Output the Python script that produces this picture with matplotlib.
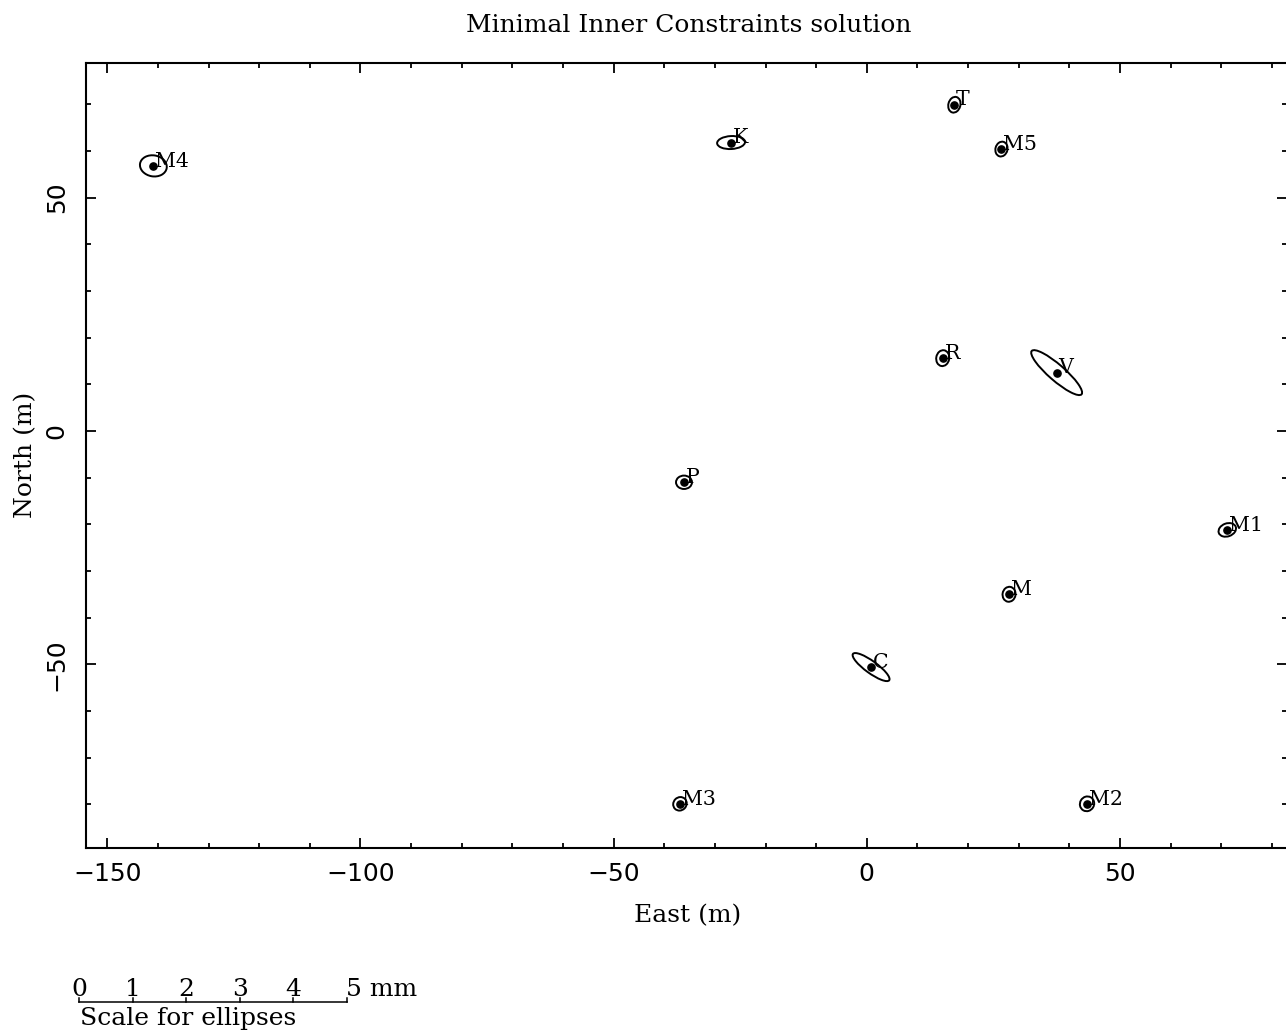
import matplotlib
matplotlib.use('Agg')
import matplotlib.pyplot as plt
from matplotlib.patches import Ellipse
from matplotlib.lines import Line2D
from matplotlib import transforms
from matplotlib.ticker import MultipleLocator

# station coordinates (m)
stations = ['M4', 'K', 'T', 'M5', 'R', 'V', 'P', 'M1', 'M', 'C', 'M3', 'M2']
east = [-140.9, -26.8, 17.3, 26.6, 15.0, 37.5, -36.1, 71.2, 28.1, 0.85, -36.9, 43.5]
north = [56.8, 61.8, 69.9, 60.4, 15.6, 12.5, -11.0, -21.2, -35.0, -50.6, -79.9, -79.9]

# error ellipses, drawn in mm on the plot
semi_major = [0.252, 0.261, 0.149, 0.140, 0.149, 0.616, 0.149, 0.168, 0.140, 0.418, 0.131, 0.140]
semi_minor = [0.196, 0.121, 0.112, 0.112, 0.121, 0.149, 0.125, 0.121, 0.121, 0.112, 0.121, 0.131]
orient = [-10, 3, 75, 75, 80, -41, 0, 20, 80, -36, 45, 60]

scale_mm = [0, 1, 2, 3, 4, 5]

MM = 0.536  # inches per mm of ellipse scale
FS = 14.8   # station names
FL = 18     # title, axis text
SERIF = 'DejaVu Serif'

plt.rcParams['font.family'] = 'DejaVu Sans'

fig = plt.figure(figsize=(12.86, 10.32), dpi=100)
ax = fig.add_axes([0.0665, 0.1786, 0.9343, 0.7606])

for name, x, y, a, b, ang in zip(stations, east, north, semi_major, semi_minor, orient):
    ax.plot(x, y, 'o', color='black', ms=5.2)
    # ellipse sized in paper units, centred on the station
    trans = fig.dpi_scale_trans + transforms.ScaledTranslation(x, y, ax.transData)
    ell = Ellipse((0, 0), 2 * a * MM, 2 * b * MM, angle=ang, fill=False,
                  lw=1.4, edgecolor='black', transform=trans)
    ax.add_patch(ell)
    ax.annotate(name, (x, y), xytext=(1.2, -0.5), textcoords='offset points',
                ha='left', va='baseline', fontsize=FS, family=SERIF)

ax.set_xlim(-154.3, 83.0)
ax.set_ylim(-89.3, 78.9)

ax.xaxis.set_major_locator(MultipleLocator(50))
ax.xaxis.set_minor_locator(MultipleLocator(10))
ax.yaxis.set_major_locator(MultipleLocator(50))
ax.yaxis.set_minor_locator(MultipleLocator(10))
ax.tick_params(which='both', direction='in', top=True, right=True, width=1.3, labelsize=FL)
ax.tick_params(which='major', length=7.2)
ax.tick_params(which='minor', length=3.6)
ax.tick_params(axis='x', pad=10)
ax.tick_params(axis='y', pad=12, labelrotation=90)
for lab in ax.get_yticklabels():
    lab.set_verticalalignment('center')
for sp in ax.spines.values():
    sp.set_linewidth(1.5)

W, H = 1286.0, 1032.0
fig.text(689 / W, 1 - 32 / H, 'Minimal Inner Constraints solution',
         ha='center', va='baseline', fontsize=FL, family=SERIF)
fig.text(687.5 / W, 1 - 922 / H, 'East (m)', ha='center', va='baseline',
         fontsize=FL, family=SERIF)
fig.text(37.5 / W, 1 - 455 / H, 'North (m)', rotation=90, ha='right', va='center',
         fontsize=FL, family=SERIF)

# scale bar for ellipses
x0, y0 = 0.79, 0.305
inch = fig.dpi_scale_trans
fig.add_artist(Line2D([x0, x0 + scale_mm[-1] * MM], [y0, y0], color='black', lw=1.1, transform=inch))
for k in scale_mm:
    xk = x0 + k * MM
    fig.add_artist(Line2D([xk, xk], [y0, y0 + 0.04], color='black', lw=1.1, transform=inch))
    if k == scale_mm[-1]:
        fig.text(xk - 0.01, y0 + 0.05, f'{k} mm', ha='left', va='baseline',
                 fontsize=FL, family=SERIF, transform=inch)
    else:
        fig.text(xk, y0 + 0.05, str(k), ha='center', va='baseline',
                 fontsize=FL, family=SERIF, transform=inch)
fig.text(x0 + 0.005, 0.07, 'Scale for ellipses', ha='left', va='baseline',
         fontsize=FL, family=SERIF, transform=inch)

fig.savefig('out.png', dpi=100)
